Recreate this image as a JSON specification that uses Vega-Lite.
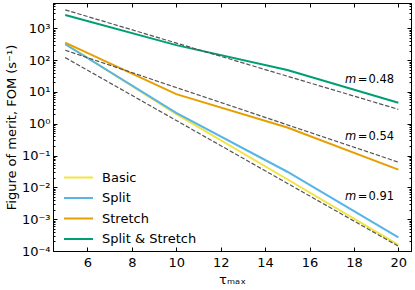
{
  "$schema": "https://vega.github.io/schema/vega-lite/v6.json",
  "width": 358,
  "height": 248,
  "autosize": "none",
  "padding": {"left": 53, "top": 3, "right": 4, "bottom": 39},
  "background": "white",
  "config": {
    "view": {"stroke": "black", "strokeWidth": 1},
    "font": "DejaVu Sans",
    "axis": {
      "domainColor": "black", "domainWidth": 1,
      "tickColor": "black", "tickWidth": 1,
      "labelColor": "black", "titleColor": "black",
      "labelFont": "DejaVu Sans", "titleFont": "DejaVu Sans",
      "labelFontSize": 13, "titleFontSize": 13, "titleFontWeight": "normal",
      "grid": false
    }
  },
  "datasets": {
    "series": [
      {"method": "Basic", "tau": 5, "fom": 330},
      {"method": "Basic", "tau": 10, "fom": 2.0},
      {"method": "Basic", "tau": 15, "fom": 0.018},
      {"method": "Basic", "tau": 20, "fom": 0.000155},
      {"method": "Split", "tau": 5, "fom": 316},
      {"method": "Split", "tau": 10, "fom": 2.2},
      {"method": "Split", "tau": 15, "fom": 0.031},
      {"method": "Split", "tau": 20, "fom": 0.00027},
      {"method": "Stretch", "tau": 5, "fom": 355},
      {"method": "Stretch", "tau": 10, "fom": 8.5},
      {"method": "Stretch", "tau": 15, "fom": 0.76},
      {"method": "Stretch", "tau": 20, "fom": 0.036},
      {"method": "Split & Stretch", "tau": 5, "fom": 2630},
      {"method": "Split & Stretch", "tau": 10, "fom": 296},
      {"method": "Split & Stretch", "tau": 15, "fom": 49},
      {"method": "Split & Stretch", "tau": 20, "fom": 4.6}
    ],
    "fits": [
      {"m": "0.48", "tau": 5, "fom": 3800},
      {"m": "0.48", "tau": 20, "fom": 2.84},
      {"m": "0.54", "tau": 5, "fom": 205},
      {"m": "0.54", "tau": 20, "fom": 0.0622},
      {"m": "0.91", "tau": 5, "fom": 120},
      {"m": "0.91", "tau": 20, "fom": 0.000142}
    ],
    "labels": [
      {"label": "=\u200a0.48", "tau": 18.15, "fom": 24.5},
      {"label": "=\u200a0.54", "tau": 18.15, "fom": 0.38},
      {"label": "=\u200a0.91", "tau": 18.15, "fom": 0.0049}
    ]
  },
  "layer": [
    {
      "data": {"name": "series"},
      "mark": {"type": "line", "strokeWidth": 2},
      "encoding": {
        "x": {
          "field": "tau", "type": "quantitative",
          "scale": {"domain": [4.45, 20.57], "nice": false, "zero": false},
          "axis": {
            "orient": "bottom", "values": [6, 8, 10, 12, 14, 16, 18, 20],
            "tickSize": -4, "labelPadding": 9, "title": "τₘₐₓ", "titlePadding": 4
          }
        },
        "y": {
          "field": "fom", "type": "quantitative",
          "scale": {"type": "log", "domain": [0.0001, 6250], "nice": false},
          "axis": {
            "orient": "left",
            "values": [0.0001,0.0002,0.0003,0.0004,0.0005,0.0006,0.0007,0.0008,0.0009,0.001,0.002,0.003,0.004,0.005,0.006,0.007,0.008,0.009,0.01,0.02,0.03,0.04,0.05,0.06,0.07,0.08,0.09,0.1,0.2,0.3,0.4,0.5,0.6,0.7,0.8,0.9,1,2,3,4,5,6,7,8,9,10,20,30,40,50,60,70,80,90,100,200,300,400,500,600,700,800,900,1000,2000,3000,4000,5000,6000],
            "labelExpr": "abs(log(datum.value)/LN10 - round(log(datum.value)/LN10)) < 0.001 ? '10' + ['⁻⁴','⁻³','⁻²','⁻¹','⁰','¹','²','³'][round(log(datum.value)/LN10)+4] : ''",
            "tickSize": {"condition": {"test": "abs(log(datum.value)/LN10 - round(log(datum.value)/LN10)) > 0.001", "value": -2}, "value": -4},
            "labelPadding": 7,
            "labelFlush": false,
            "labelOverlap": false,
            "title": "Figure of merit, FOM (s⁻¹)",
            "titlePadding": 3
          }
        },
        "color": {
          "field": "method", "type": "nominal",
          "scale": {"domain": ["Basic", "Split", "Stretch", "Split & Stretch"], "range": ["#F0E442", "#56B4E9", "#E69F00", "#009E73"]},
          "legend": {
            "orient": "none", "legendX": 17, "legendY": 166, "title": null,
            "padding": 0, "symbolType": "M-2,0H2", "symbolSize": 210,
            "symbolStrokeWidth": 2, "labelFontSize": 13, "labelOffset": 15,
            "rowPadding": 4.5, "labelFont": "DejaVu Sans", "labelColor": "black"
          }
        }
      }
    },
    {
      "data": {"name": "fits"},
      "mark": {"type": "line", "strokeDash": [4.4, 1.9], "strokeWidth": 1.2, "color": "#555555"},
      "encoding": {
        "x": {
          "field": "tau", "type": "quantitative",
          "axis": {"orient": "top", "values": [6, 8, 10, 12, 14, 16, 18, 20], "tickSize": -4, "labels": false, "title": null}
        },
        "y": {
          "field": "fom", "type": "quantitative",
          "axis": {
            "orient": "right", "labels": false, "title": null,
            "values": [0.0001,0.0002,0.0003,0.0004,0.0005,0.0006,0.0007,0.0008,0.0009,0.001,0.002,0.003,0.004,0.005,0.006,0.007,0.008,0.009,0.01,0.02,0.03,0.04,0.05,0.06,0.07,0.08,0.09,0.1,0.2,0.3,0.4,0.5,0.6,0.7,0.8,0.9,1,2,3,4,5,6,7,8,9,10,20,30,40,50,60,70,80,90,100,200,300,400,500,600,700,800,900,1000,2000,3000,4000,5000,6000],
            "tickSize": {"condition": {"test": "abs(log(datum.value)/LN10 - round(log(datum.value)/LN10)) > 0.001", "value": -2}, "value": -4}
          }
        },
        "detail": {"field": "m", "type": "nominal"}
      }
    },
    {
      "data": {"name": "labels"},
      "mark": {"type": "text", "fontStyle": "italic", "align": "right", "baseline": "middle", "dx": -1, "fontSize": 11.5, "color": "black", "font": "DejaVu Sans"},
      "encoding": {
        "x": {"field": "tau", "type": "quantitative", "axis": null},
        "y": {"field": "fom", "type": "quantitative", "axis": null},
        "text": {"value": "m"}
      }
    },
    {
      "data": {"name": "labels"},
      "mark": {"type": "text", "align": "left", "baseline": "middle", "dx": 0.5, "fontSize": 11.5, "color": "black", "font": "DejaVu Sans"},
      "encoding": {
        "x": {"field": "tau", "type": "quantitative", "axis": null},
        "y": {"field": "fom", "type": "quantitative", "axis": null},
        "text": {"field": "label"}
      }
    }
  ],
  "resolve": {"axis": {"x": "independent", "y": "independent"}}
}
